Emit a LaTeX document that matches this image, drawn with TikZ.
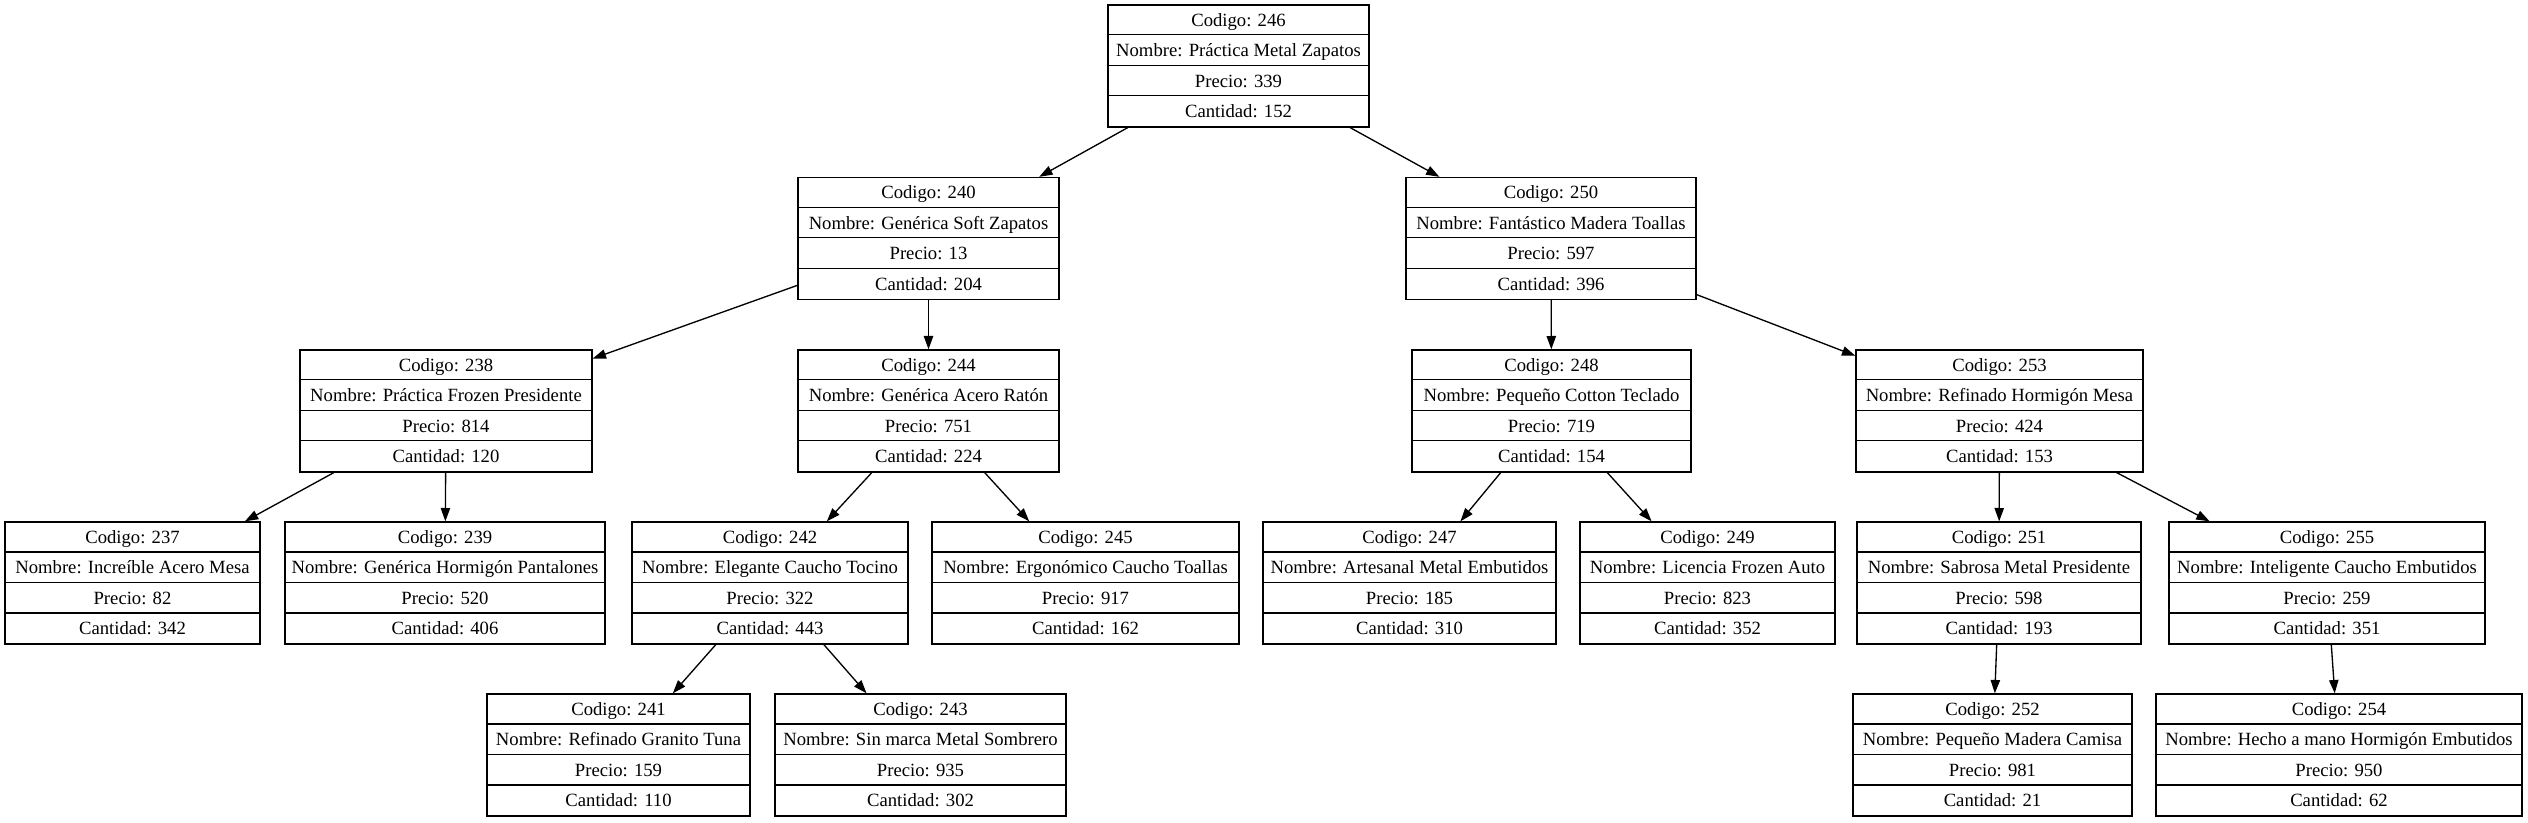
\documentclass[tikz,border=0pt]{standalone}
\usepackage{fontspec}
\setmainfont{Liberation Serif}
\usetikzlibrary{arrows.meta}
\tikzset{
  recbox/.style={draw, line width=1pt, rectangle, inner sep=0pt, minimum height=91.5pt},
  recline/.style={line width=1pt},
  rectext/.style={font=\fontsize{14}{16}\selectfont, inner sep=0pt, anchor=base},
  treeedge/.style={line width=1pt, -{Triangle[length=10pt,width=7pt]}},
}
\newcommand{\recnode}[8]{%
  \pgfmathsetmacro{\recW}{(#3-#2)*0.75}%
  \pgfmathsetmacro{\recX}{(#2+#3)/2}%
  \pgfmathsetmacro{\recY}{#4+61}%
  \node[recbox, minimum width=\recW pt] (#1) at (\recX,\recY) {};
  \draw[recline] ([yshift=-22.875pt]#1.north west) -- ([yshift=-22.875pt]#1.north east);
  \draw[recline] ([yshift=-45.75pt]#1.north west) -- ([yshift=-45.75pt]#1.north east);
  \draw[recline] ([yshift=-68.625pt]#1.north west) -- ([yshift=-68.625pt]#1.north east);
  \node[rectext] (#1-c) at ([yshift=-16.44pt]#1.north) {Codigo: #5};
  \node[rectext] (#1-n) at ([yshift=-39.31pt]#1.north) {Nombre: #6};
  \node[rectext] (#1-p) at ([yshift=-62.19pt]#1.north) {Precio: #7};
  \node[rectext] (#1-q) at ([yshift=-85.06pt]#1.north) {Cantidad: #8};
}
\begin{document}
\begin{tikzpicture}[x=0.75pt, y=-0.75pt]
\useasboundingbox (0,0) rectangle (2528,823);
\recnode{n246}{1108}{1369}{5}{246}{Práctica Metal Zapatos}{339}{152}
\recnode{n240}{798}{1059}{177.5}{240}{Genérica Soft Zapatos}{13}{204}
\recnode{n250}{1406}{1696}{177.5}{250}{Fantástico Madera Toallas}{597}{396}
\recnode{n238}{300}{592}{350}{238}{Práctica Frozen Presidente}{814}{120}
\recnode{n244}{798}{1059}{350}{244}{Genérica Acero Ratón}{751}{224}
\recnode{n248}{1412}{1691}{350}{248}{Pequeño Cotton Teclado}{719}{154}
\recnode{n253}{1856}{2143}{350}{253}{Refinado Hormigón Mesa}{424}{153}
\recnode{n237}{5}{260}{522}{237}{Increíble Acero Mesa}{82}{342}
\recnode{n239}{285}{605}{522}{239}{Genérica Hormigón Pantalones}{520}{406}
\recnode{n242}{632}{908}{522}{242}{Elegante Caucho Tocino}{322}{443}
\recnode{n245}{932}{1239}{522}{245}{Ergonómico Caucho Toallas}{917}{162}
\recnode{n247}{1263}{1556}{522}{247}{Artesanal Metal Embutidos}{185}{310}
\recnode{n249}{1580}{1835}{522}{249}{Licencia Frozen Auto}{823}{352}
\recnode{n251}{1857}{2141}{522}{251}{Sabrosa Metal Presidente}{598}{193}
\recnode{n255}{2169}{2485}{522}{255}{Inteligente Caucho Embutidos}{259}{351}
\recnode{n241}{487}{750}{694}{241}{Refinado Granito Tuna}{159}{110}
\recnode{n243}{775}{1066}{694}{243}{Sin marca Metal Sombrero}{935}{302}
\recnode{n252}{1853}{2132}{694}{252}{Pequeño Madera Camisa}{981}{21}
\recnode{n254}{2156}{2522}{694}{254}{Hecho a mano Hormigón Embutidos}{950}{62}
\draw[treeedge] (n246) -- (n240);
\draw[treeedge] (n246) -- (n250);
\draw[treeedge] (n240) -- (n238);
\draw[treeedge] (n240) -- (n244);
\draw[treeedge] (n250) -- (n248);
\draw[treeedge] (n250) -- (n253);
\draw[treeedge] (n238) -- (n237);
\draw[treeedge] (n238) -- (n239);
\draw[treeedge] (n244) -- (n242);
\draw[treeedge] (n244) -- (n245);
\draw[treeedge] (n248) -- (n247);
\draw[treeedge] (n248) -- (n249);
\draw[treeedge] (n253) -- (n251);
\draw[treeedge] (n253) -- (n255);
\draw[treeedge] (n242) -- (n241);
\draw[treeedge] (n242) -- (n243);
\draw[treeedge] (n251) -- (n252);
\draw[treeedge] (n255) -- (n254);
\end{tikzpicture}
\end{document}
